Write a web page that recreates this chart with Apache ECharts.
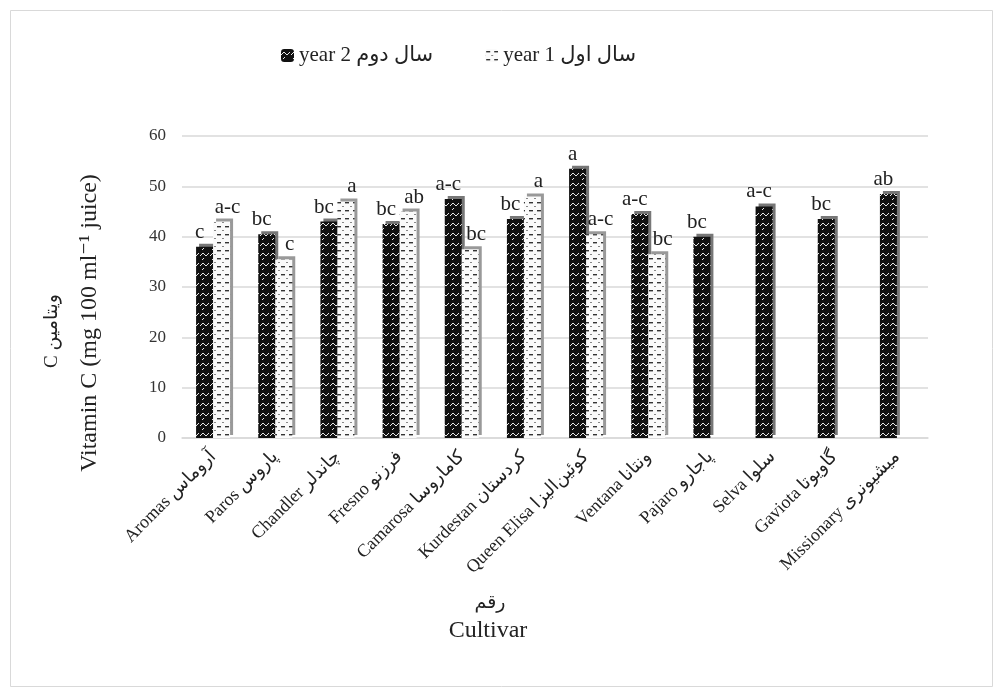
<!DOCTYPE html>
<html><head><meta charset="utf-8">
<script src="https://cdn.jsdelivr.net/npm/echarts@6/dist/echarts.min.js"></script>
<style>html,body{margin:0;padding:0;background:#fff}#c{width:998px;height:692px}</style>
</head><body><div id="c"></div>
<script>
const categories = ['Aromas آروماس','Paros پاروس','Chandler چاندلر','Fresno فرزنو','Camarosa کاماروسا','Kurdestan کردستان','Queen Elisa کوئین‌الیزا','Ventana ونتانا','Pajaro پاجارو','Selva سلوا','Gaviota گاویوتا','Missionary میشیونری'];
const year2 = [38, 40.5, 43, 42.5, 47.5, 43.5, 53.5, 44.5, 40, 46, 43.5, 48.5];
const year1 = [43, 35.5, 47, 45, 37.5, 48, 40.5, 36.5, 0, 0, 0, 0];
const letters2 = ['c','bc','bc','bc','a-c','bc','a','a-c','bc','a-c','bc','ab'];
const letters1 = ['a-c','c','a','ab','bc','a','a-c','bc','','','',''];
const seriesNames = ['year 2 سال دوم','year 1 سال اول'];

function pat2(){const c=document.createElement('canvas');c.width=10;c.height=10;const g=c.getContext('2d');
 g.fillStyle='#111';g.fillRect(0,0,10,10);g.strokeStyle='#e8e8e8';g.lineWidth=1;
 g.beginPath();g.moveTo(0,6);g.lineTo(3,3);g.lineTo(6,6);g.lineTo(9,3);g.stroke();
 g.beginPath();g.moveTo(2,10);g.lineTo(4,8);g.stroke();return c;}
function pat1(){const c=document.createElement('canvas');c.width=8;c.height=8;const g=c.getContext('2d');
 g.fillStyle='#fafafa';g.fillRect(0,0,8,8);g.fillStyle='#333';g.fillRect(1,2,4,1.4);
 g.fillStyle='#888';g.fillRect(6,6,2,1);return c;}

const font='"Liberation Serif","DejaVu Serif","DejaVu Sans",serif';
const chart=echarts.init(document.getElementById('c'));
chart.setOption({
 animation:false,
 backgroundColor:'#fff',
 legend:{left:276,top:40,itemWidth:13,itemHeight:13,itemGap:52,
   textStyle:{fontFamily:font,fontSize:21,color:'#222'},data:seriesNames},
 grid:{left:182,right:70,top:136,bottom:254},
 xAxis:{type:'category',data:categories,
   axisLine:{show:true,lineStyle:{color:'#d9d9d9',width:1.5}},axisTick:{show:false},
   axisLabel:{rotate:45,interval:0,margin:16,fontFamily:font,fontSize:18,color:'#222'}},
 yAxis:{type:'value',min:0,max:60,interval:10,
   axisLine:{show:false},axisTick:{show:false},
   splitLine:{lineStyle:{color:'#d9d9d9',width:1.5}},
   axisLabel:{fontFamily:font,fontSize:17,color:'#333',margin:16}},
 series:[
  {name:seriesNames[0],type:'bar',data:year2,barWidth:17,barGap:'0%',
   itemStyle:{color:{image:pat2(),repeat:'repeat'},shadowColor:'#777',shadowOffsetX:3,shadowOffsetY:-3,shadowBlur:0},
   label:{show:true,position:'top',offset:[-5,0],distance:4,fontFamily:font,fontSize:21,color:'#222',
     formatter:p=>letters2[p.dataIndex]}},
  {name:seriesNames[1],type:'bar',data:year1,barWidth:17,
   itemStyle:{color:{image:pat1(),repeat:'repeat'},shadowColor:'#999',shadowOffsetX:3,shadowOffsetY:-3,shadowBlur:0},
   label:{show:true,position:'top',offset:[6,0],distance:4,fontFamily:font,fontSize:21,color:'#222',
     formatter:p=>letters1[p.dataIndex]}}
 ],
 graphic:[
  {type:'rect',left:8,top:8,shape:{width:982,height:676},style:{fill:'none',stroke:'#d9d9d9',lineWidth:1},silent:true},
  {type:'text',x:52,y:331,rotation:Math.PI/2,style:{text:'C ویتامین',fontFamily:font,fontSize:19,fill:'#222',textAlign:'center',textVerticalAlign:'middle'}},
  {type:'text',x:90,y:323,rotation:Math.PI/2,style:{text:'Vitamin C (mg 100 ml⁻¹ juice)',fontFamily:font,fontSize:24,fill:'#222',textAlign:'center',textVerticalAlign:'middle'}},
  {type:'text',x:490,y:603,style:{text:'رقم',fontFamily:font,fontSize:19,fill:'#222',textAlign:'center',textVerticalAlign:'middle'}},
  {type:'text',x:488,y:631,style:{text:'Cultivar',fontFamily:font,fontSize:24,fill:'#222',textAlign:'center',textVerticalAlign:'middle'}}
 ]
});
</script></body></html>
